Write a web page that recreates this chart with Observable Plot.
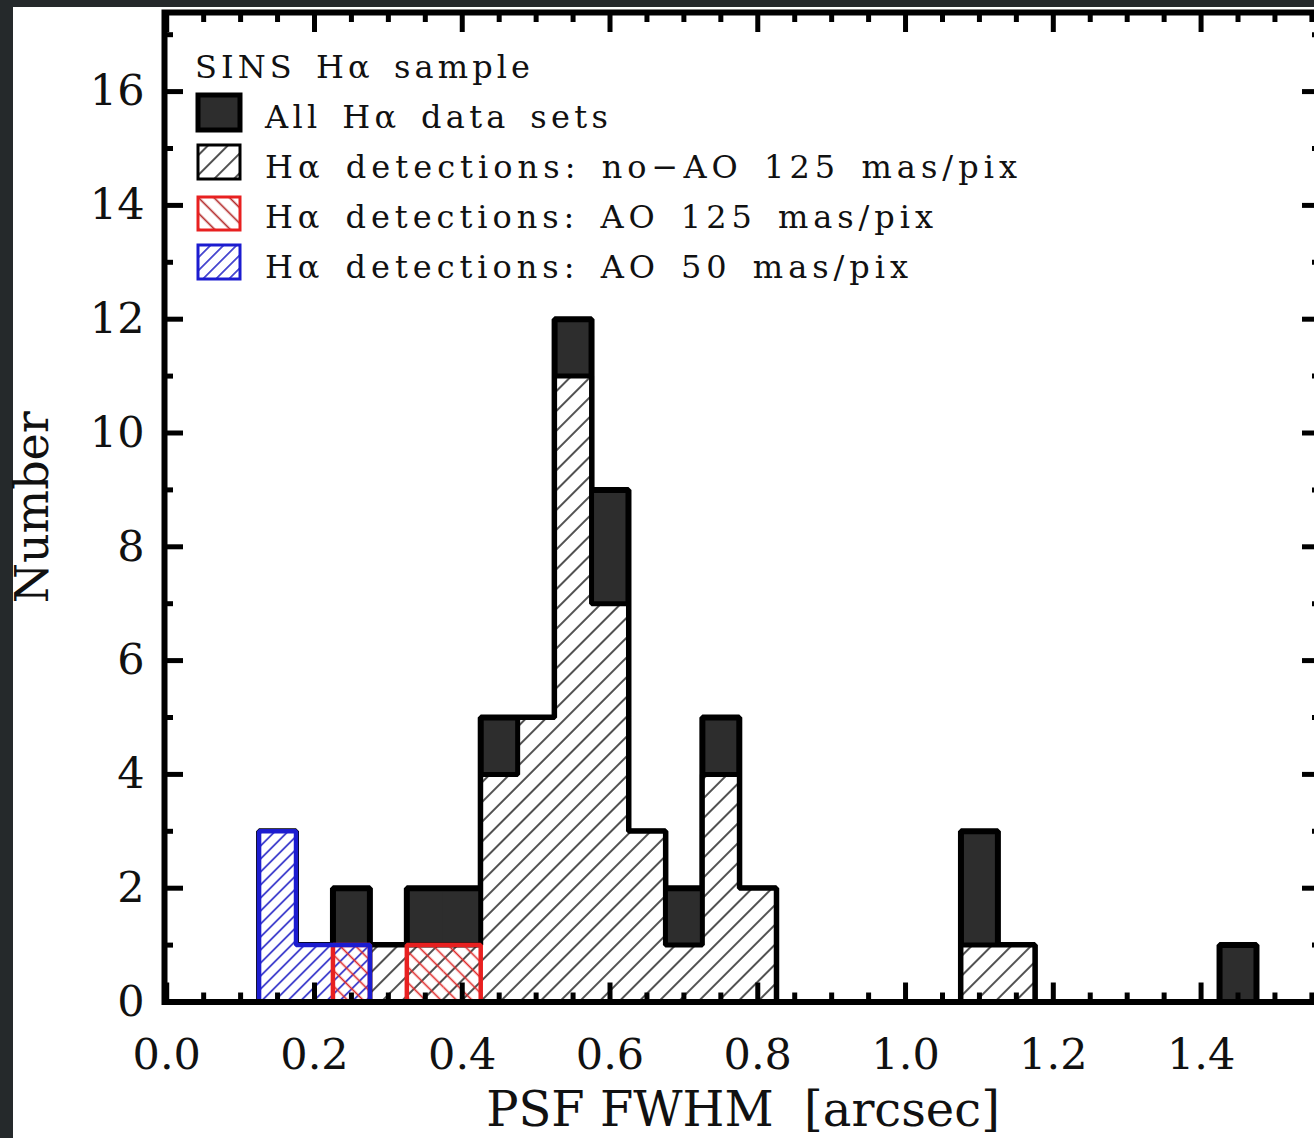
<!DOCTYPE html>
<html><head><meta charset="utf-8">
<script src="https://cdn.jsdelivr.net/npm/d3@7"></script>
<script src="https://cdn.jsdelivr.net/npm/@observablehq/plot@0.6"></script>
<style>
html,body{margin:0;padding:0;background:#25292b;overflow:hidden;width:1314px;height:1138px;}
#paper{position:absolute;left:13px;top:7px;width:1301px;height:1131px;background:#fff;}
#wrap{position:absolute;left:0;top:7px;width:1314px;height:1131px;overflow:hidden;}
#wrap svg{display:block;max-width:none !important;}
#legend{position:absolute;left:0;top:0;}
</style></head><body>
<svg width="0" height="0" style="position:absolute">
  <defs>
    <pattern id="hatchNoAO" patternUnits="userSpaceOnUse" width="14" height="14" patternTransform="rotate(45)">
      <rect width="14" height="14" fill="#fff"/>
      <line x1="7" y1="-1" x2="7" y2="15" stroke="#333" stroke-width="1.7"/>
    </pattern>
    <pattern id="hatchBlue" patternUnits="userSpaceOnUse" width="9.2" height="9.2" patternTransform="rotate(45)">
      <rect width="9.2" height="9.2" fill="#fff"/>
      <line x1="4.6" y1="-1" x2="4.6" y2="10.2" stroke="#2a2ac8" stroke-width="1.6"/>
    </pattern>
    <pattern id="hatchRed" patternUnits="userSpaceOnUse" width="11" height="11" patternTransform="rotate(-45)">
      <line x1="5.5" y1="-1" x2="5.5" y2="12" stroke="#e02828" stroke-width="1.6"/>
    </pattern>
    <pattern id="hatchRedL" patternUnits="userSpaceOnUse" width="11" height="11" patternTransform="rotate(-45)">
      <rect width="11" height="11" fill="#fff"/>
      <line x1="5.5" y1="-1" x2="5.5" y2="12" stroke="#b02020" stroke-width="1.6"/>
    </pattern>
  </defs>
</svg>
<div id="paper"></div>
<div id="wrap"></div>
<script>
// ---- data ----
const binWidth = 0.05;
const binCenters = [0.15,0.20,0.25,0.30,0.35,0.40,0.45,0.50,0.55,0.60,0.65,0.70,0.75,0.80,0.85,0.90,0.95,1.00,1.05,1.10,1.15,1.20,1.25,1.30,1.35,1.40,1.45];
const allCounts   = [3,1,2,1,2,2,5,5,12,9,3,2,5,2,0,0,0,0,0,3,1,0,0,0,0,0,1];
const noAO125     = [0,0,0,1,1,1,4,5,11,7,3,1,4,2,0,0,0,0,0,1,1,0,0,0,0,0,0];
const ao125       = [0,0,1,0,1,1,0,0,0,0,0,0,0,0,0,0,0,0,0,0,0,0,0,0,0,0,0];
const ao50        = [3,1,1,0,0,0,0,0,0,0,0,0,0,0,0,0,0,0,0,0,0,0,0,0,0,0,0];

const xMajorTicks = [0.0,0.2,0.4,0.6,0.8,1.0,1.2,1.4];
const xMinorTicks = [0.05,0.1,0.15,0.25,0.3,0.35,0.45,0.5,0.55,0.65,0.7,0.75,0.85,0.9,0.95,1.05,1.1,1.15,1.25,1.3,1.35,1.45,1.5,1.55];
const yMajorTicks = [0,2,4,6,8,10,12,14,16];
const yMinorTicks = [1,3,5,7,9,11,13,15,17];

const xTitle = "PSF FWHM\u00a0 [arcsec]";
const yTitle = "Number";
const legendTitle = "SINS H\u03b1 sample";
const legendLabels = [
  "All H\u03b1 data sets",
  "H\u03b1 detections: no\u2212AO 125 mas/pix",
  "H\u03b1 detections: AO 125 mas/pix",
  "H\u03b1 detections: AO 50 mas/pix"
];

// ---- layout ----
const W = 1333, H = 1131;
const mL = 164, mR = 12, mT = 5, mB = 136.5;
const frameW = W - mL - mR, frameH = H - mT - mB;
const font = "DejaVu Serif";
const seam = {insetLeft: -0.6, insetRight: -0.6};

const bars = counts => binCenters.map((c,i)=>({x1:c-binWidth/2, x2:c+binWidth/2, n:counts[i]})).filter(d=>d.n>0);
const envelope = counts => {
  const pts = [{x: binCenters[0]-binWidth/2, y: 0}];
  counts.forEach((n,i)=>pts.push({x: binCenters[i]-binWidth/2, y: n}));
  pts.push({x: binCenters[binCenters.length-1]+binWidth/2, y: 0});
  return pts;
};

const plot = Plot.plot({
  width: W, height: H,
  marginLeft: mL, marginRight: mR, marginTop: mT, marginBottom: mB,
  style: {fontFamily: font, background: "transparent", color: "#111", overflow: "visible"},
  x: {domain: [-0.003, 1.563], axis: null},
  y: {domain: [0, 17.39], axis: null},
  marks: [
    Plot.rectY(bars(allCounts), {x1:"x1", x2:"x2", y:"n", fill:"#2d2d2d", ...seam}),
    Plot.line(envelope(allCounts), {x:"x", y:"y", curve:"step-after", stroke:"#000", strokeWidth:6, strokeLinejoin:"miter"}),
    Plot.rectY(bars(noAO125), {x1:"x1", x2:"x2", y:"n", fill:"url(#hatchNoAO)", ...seam}),
    Plot.line(envelope(noAO125), {x:"x", y:"y", curve:"step-after", stroke:"#000", strokeWidth:5, strokeLinejoin:"miter"}),
    Plot.rectY(bars(ao50), {x1:"x1", x2:"x2", y:"n", fill:"url(#hatchBlue)", ...seam}),
    Plot.rectY(bars(ao125), {x1:"x1", x2:"x2", y:"n", fill:"url(#hatchRed)"}),
    Plot.line(envelope(ao125), {x:"x", y:"y", curve:"step-after", stroke:"#e82020", strokeWidth:4.5, strokeLinejoin:"miter"}),
    Plot.line(envelope(ao50), {x:"x", y:"y", curve:"step-after", stroke:"#1c1cd0", strokeWidth:4.5, strokeLinejoin:"miter"}),
    // ticks: bottom / top
    Plot.tickX(xMajorTicks, {x:d=>d, insetTop: frameH-19, stroke:"#000", strokeWidth:5}),
    Plot.tickX(xMinorTicks, {x:d=>d, insetTop: frameH-9, stroke:"#000", strokeWidth:5}),
    Plot.tickX(xMajorTicks, {x:d=>d, insetBottom: frameH-20, stroke:"#000", strokeWidth:5}),
    Plot.tickX(xMinorTicks, {x:d=>d, insetBottom: frameH-10, stroke:"#000", strokeWidth:5}),
    // ticks: left / right
    Plot.tickY(yMajorTicks, {y:d=>d, insetRight: frameW-19, stroke:"#000", strokeWidth:5}),
    Plot.tickY(yMinorTicks, {y:d=>d, insetRight: frameW-9, stroke:"#000", strokeWidth:5}),
    Plot.tickY(yMajorTicks, {y:d=>d, insetLeft: frameW-19, stroke:"#000", strokeWidth:5}),
    Plot.tickY(yMinorTicks, {y:d=>d, insetLeft: frameW-9, stroke:"#000", strokeWidth:5}),
    Plot.frame({stroke:"#000", strokeWidth:6}),
    Plot.axisX({ticks: xMajorTicks, tickSize: 0, tickPadding: 36, tickFormat: d3.format(".1f"), fontSize: 43, label: null}),
    Plot.axisY({ticks: yMajorTicks, tickSize: 0, tickPadding: 20, tickFormat: d=>String(d), fontSize: 43, label: null}),
    Plot.text([xTitle], {frameAnchor:"bottom", text:d=>d, dy: 124, lineAnchor:"bottom", fontSize: 48, fill:"#111"}),
    Plot.text([yTitle], {frameAnchor:"left", text:d=>d, dx: -149, rotate: -90, textAnchor:"middle", lineAnchor:"top", fontSize: 46, fill:"#111"})
  ]
});
document.getElementById("wrap").appendChild(plot);

// ---- legend (inside the plot, top-left) ----
const oy = 7; // page offset of the svg
const L = d3.select("#wrap").append("svg").attr("id","legend").attr("width",1314).attr("height",320)
  .style("font-family", font);
const legendText = (str, x, y, len) => L.append("text").attr("x", x).attr("y", y-oy)
  .attr("font-size", 32).attr("fill", "#111")
  .style("word-spacing", "6px")
  .attr("textLength", len).attr("lengthAdjust", "spacing").text(str);
legendText(legendTitle, 195, 78, 335);
const rowBase = [128, 178, 228, 278];
const rowLen = [343, 752, 668, 643];
const sw = [
  {fill:"#2d2d2d", stroke:"#000", sw:5, y:95, h:35},
  {fill:"url(#hatchNoAO)", stroke:"#000", sw:3, y:145, h:34},
  {fill:"url(#hatchRedL)", stroke:"#e82020", sw:3, y:197, h:33},
  {fill:"url(#hatchBlue)", stroke:"#1c1cd0", sw:3, y:245, h:34}
];
legendLabels.forEach((lab,i)=>{
  L.append("rect").attr("x",198).attr("y",sw[i].y-oy).attr("width",42).attr("height",sw[i].h)
    .attr("fill",sw[i].fill).attr("stroke",sw[i].stroke).attr("stroke-width",sw[i].sw);
  legendText(lab, 265, rowBase[i], rowLen[i]);
});
</script>
</body></html>
